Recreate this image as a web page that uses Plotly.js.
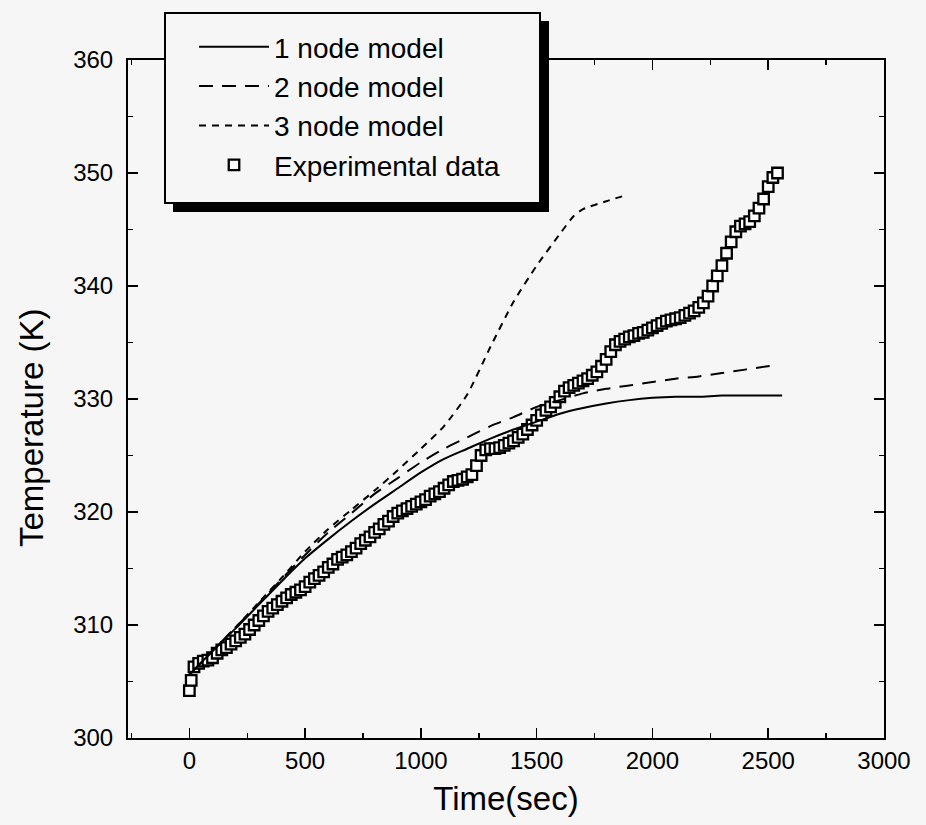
<!DOCTYPE html>
<html>
<head>
<meta charset="utf-8">
<script src="https://cdn.plot.ly/plotly-3.0.1.min.js"></script>
<style>
  html, body { margin: 0; padding: 0; background: #f6f6f6; }
  #chart { width: 926px; height: 825px; }
</style>
</head>
<body>
<div id="chart"></div>
<script>
// ---- Data ----
var seriesNames = ["1 node model", "2 node model", "3 node model", "Experimental data"];

var t1 = [0, 100, 200, 300, 400, 500, 600, 700, 800, 900, 1000, 1100, 1200, 1300, 1400, 1500, 1600, 1700, 1800, 1900, 2000, 2100, 2200, 2300, 2400, 2500, 2560];
var T1 = [305.6, 307.7, 309.7, 311.8, 313.9, 315.9, 317.6, 319.2, 320.7, 322.1, 323.5, 324.7, 325.6, 326.5, 327.3, 328.0, 328.7, 329.2, 329.6, 329.9, 330.1, 330.2, 330.2, 330.3, 330.3, 330.3, 330.3];

var t2 = [0, 100, 200, 300, 400, 500, 600, 700, 800, 900, 1000, 1100, 1200, 1300, 1400, 1500, 1600, 1700, 1800, 1900, 2000, 2100, 2200, 2300, 2400, 2530];
var T2 = [305.6, 307.7, 309.8, 311.9, 314.1, 316.2, 318.2, 319.9, 321.6, 323.0, 324.4, 325.6, 326.6, 327.6, 328.4, 329.3, 329.9, 330.5, 330.9, 331.2, 331.5, 331.8, 332.0, 332.3, 332.6, 333.0];

var t3 = [0, 100, 200, 300, 400, 500, 600, 700, 800, 900, 1000, 1100, 1200, 1300, 1400, 1500, 1600, 1660, 1700, 1800, 1880];
var T3 = [305.6, 307.7, 309.8, 312.0, 314.2, 316.5, 318.5, 320.2, 321.9, 323.7, 325.6, 327.6, 330.4, 334.6, 338.6, 341.8, 344.6, 346.2, 346.8, 347.5, 348.0];

var tExp = [0, 8, 20, 40, 60, 80, 100, 120, 140, 160, 180, 200, 220, 240, 260, 280, 300, 320, 340, 360, 380, 400, 420, 440, 460, 480, 500, 520, 540, 560, 580, 600, 620, 640, 660, 680, 700, 720, 740, 760, 780, 800, 820, 840, 860, 880, 900, 920, 940, 960, 980, 1000, 1020, 1040, 1060, 1080, 1100, 1120, 1140, 1160, 1180, 1200, 1220, 1240, 1260, 1280, 1300, 1320, 1340, 1360, 1380, 1400, 1420, 1440, 1460, 1480, 1500, 1520, 1540, 1560, 1580, 1600, 1620, 1640, 1660, 1680, 1700, 1720, 1740, 1760, 1780, 1800, 1820, 1840, 1860, 1880, 1900, 1920, 1940, 1960, 1980, 2000, 2020, 2040, 2060, 2080, 2100, 2120, 2140, 2160, 2180, 2200, 2220, 2240, 2260, 2280, 2300, 2320, 2340, 2360, 2380, 2400, 2420, 2440, 2460, 2480, 2500, 2520, 2540];
var TExp = [304.2, 305.1, 306.3, 306.6, 306.8, 306.9, 307.1, 307.5, 307.8, 308.0, 308.3, 308.6, 308.9, 309.2, 309.6, 310.0, 310.4, 310.8, 311.2, 311.5, 311.8, 312.1, 312.4, 312.7, 312.9, 313.1, 313.4, 313.8, 314.1, 314.4, 314.7, 315.1, 315.4, 315.8, 316.0, 316.2, 316.5, 316.8, 317.2, 317.5, 317.8, 318.2, 318.5, 318.9, 319.2, 319.6, 319.9, 320.1, 320.3, 320.5, 320.7, 320.9, 321.1, 321.4, 321.6, 321.8, 322.1, 322.4, 322.7, 322.8, 322.9, 323.1, 323.3, 324.1, 325.0, 325.5, 325.6, 325.6, 325.7, 325.9, 326.1, 326.3, 326.6, 326.9, 327.3, 327.7, 328.1, 328.6, 329.0, 329.3, 329.7, 330.2, 330.7, 331.0, 331.2, 331.4, 331.6, 331.8, 332.1, 332.4, 332.9, 333.5, 334.2, 334.8, 335.1, 335.3, 335.5, 335.6, 335.8, 335.9, 336.1, 336.3, 336.5, 336.7, 336.9, 337.0, 337.1, 337.2, 337.4, 337.6, 337.8, 338.1, 338.5, 339.1, 340.0, 340.9, 341.8, 342.9, 343.9, 344.8, 345.3, 345.5, 345.7, 346.2, 346.9, 347.7, 348.8, 349.6, 350.0];

var xTickVals = [0, 500, 1000, 1500, 2000, 2500, 3000];
var yTickVals = [300, 310, 320, 330, 340, 350, 360];
var xTitle = "Time(sec)";
var yTitle = "Temperature (K)";

// ---- Traces ----
var FONT = "Liberation Sans, Arial, sans-serif";
var traces = [
  { x: tExp, y: TExp, name: seriesNames[3], mode: "markers", type: "scatter",
    marker: { symbol: "square", size: 10.5, color: "#ffffff", line: { color: "#000", width: 2.3 } },
    legendrank: 4, legendgroup: "g4" },
  { x: t1, y: T1, name: seriesNames[0], mode: "lines", type: "scatter", line: { color: "#000", width: 2, shape: "spline", smoothing: 0.6 }, legendrank: 1, legendgroup: "g1" },
  { x: t2, y: T2, name: seriesNames[1], mode: "lines", type: "scatter", line: { color: "#000", width: 2, dash: "14px,9px", shape: "spline", smoothing: 0.6 }, legendrank: 2, legendgroup: "g2" },
  { x: t3, y: T3, name: seriesNames[2], mode: "lines", type: "scatter", line: { color: "#000", width: 2, dash: "7px,6px", shape: "spline", smoothing: 0.6 }, legendrank: 3, legendgroup: "g3" }
];

// plot area in pixels: left 128, right 884, top 60, bottom 738
var L = 128, R = 884, TOP = 60, B = 738;
function px(p) { return (p - L) / (R - L); }
function py(p) { return (B - p) / (B - TOP); }

var layout = {
  width: 926, height: 825,
  margin: { l: L, r: 926 - R, t: TOP, b: 825 - B },
  paper_bgcolor: "#f6f6f6", plot_bgcolor: "#f6f6f6",
  font: { family: FONT, color: "#000", size: 24 },
  showlegend: true,
  legend: {
    x: px(194), y: py(22), xanchor: "left", yanchor: "top",
    bgcolor: "rgba(0,0,0,0)", borderwidth: 0,
    font: { family: FONT, size: 28, color: "#000" },
    itemwidth: 70, tracegroupgap: 0, traceorder: "normal"
  },
  xaxis: {
    range: [-265, 3000], tickvals: xTickVals, ticktext: xTickVals.map(String),
    ticks: "inside", ticklen: 10, tickwidth: 1.5, tickcolor: "#000",
    minor: { dtick: 250, tick0: 0, ticks: "inside", ticklen: 5, tickwidth: 1.5, tickcolor: "#000" },
    showline: true, linecolor: "#000", linewidth: 2, mirror: "allticks",
    showgrid: false, zeroline: false,
    tickfont: { family: FONT, size: 24, color: "#000" },
    title: { text: xTitle, font: { family: FONT, size: 33, color: "#000" }, standoff: 14 }
  },
  yaxis: {
    range: [300, 360], tickvals: yTickVals, ticktext: yTickVals.map(String),
    ticks: "inside", ticklen: 10, tickwidth: 1.5, tickcolor: "#000",
    minor: { dtick: 5, tick0: 300, ticks: "inside", ticklen: 5, tickwidth: 1.5, tickcolor: "#000" },
    showline: true, linecolor: "#000", linewidth: 2, mirror: "allticks",
    showgrid: false, zeroline: false, ticklabelstandoff: 8,
    tickfont: { family: FONT, size: 24, color: "#000" },
    title: { text: "" }
  },
  annotations: [
    { text: yTitle, xref: "paper", yref: "paper", x: px(31), y: py(428), xanchor: "center", yanchor: "middle",
      textangle: -90, showarrow: false, font: { family: FONT, size: 33, color: "#000" } }
  ],
  shapes: [
    { type: "rect", xref: "paper", yref: "paper", x0: px(173), x1: px(549), y0: py(21), y1: py(212),
      fillcolor: "#000", line: { width: 0 }, layer: "above" },
    { type: "rect", xref: "paper", yref: "paper", x0: px(165), x1: px(540), y0: py(13), y1: py(203),
      fillcolor: "#f6f6f6", line: { color: "#000", width: 2 }, layer: "above" }
  ]
};

Plotly.newPlot("chart", traces, layout, { displayModeBar: false, staticPlot: true });
</script>
</body>
</html>
